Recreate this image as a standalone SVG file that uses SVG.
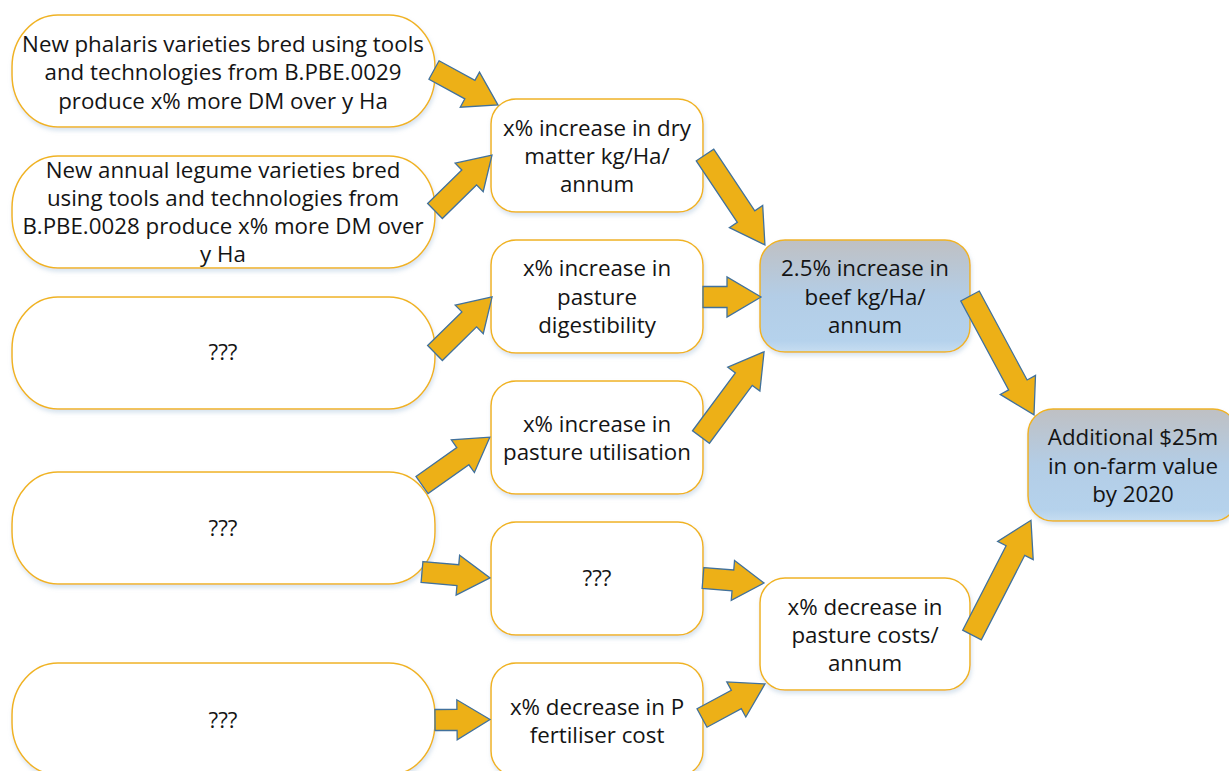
<svg xmlns="http://www.w3.org/2000/svg" width="1229" height="771" viewBox="0 0 1229 771">
<defs>
<linearGradient id="blueGrad" x1="0" y1="0" x2="0" y2="1">
<stop offset="0" stop-color="#bfc0c3"/>
<stop offset="0.5" stop-color="#b3cde6"/>
<stop offset="0.9" stop-color="#b5d2ec"/>
<stop offset="1" stop-color="#c6ddf1"/>
</linearGradient>
<filter id="sh" x="-10%" y="-10%" width="120%" height="130%">
<feDropShadow dx="1" dy="3" stdDeviation="2" flood-color="#8fb0d0" flood-opacity="0.35"/>
</filter>
</defs>
<style>
.box{fill:#ffffff;stroke:#f0b323;stroke-width:1.5;filter:url(#sh)}
.blue{fill:url(#blueGrad);stroke:#f0b323;stroke-width:1.5;filter:url(#sh)}
.t{font-family:"Open Sans","Noto Sans",sans-serif;font-size:22.3px;fill:#141414;text-anchor:middle}
.arr{fill:#edb017;stroke:#41719c;stroke-width:1.3;stroke-linejoin:miter}
</style>
<rect width="1229" height="771" fill="#ffffff"/>

<g id="L1"><rect class="box" x="12" y="15" width="423" height="112" rx="46" ry="52"/>
<text class="t"><tspan x="223" y="52">New phalaris varieties bred using tools</tspan><tspan x="223" y="80">and technologies from B.PBE.0029</tspan><tspan x="223" y="109">produce x% more DM over y Ha</tspan></text></g>
<g id="L2"><rect class="box" x="12" y="156" width="423" height="112" rx="46" ry="52"/>
<text class="t"><tspan x="223" y="178">New annual legume varieties bred</tspan><tspan x="223" y="206">using tools and technologies from</tspan><tspan x="223" y="234">B.PBE.0028 produce x% more DM over</tspan><tspan x="223" y="262">y Ha</tspan></text></g>
<g id="L3"><rect class="box" x="12" y="297" width="423" height="112" rx="46" ry="52"/>
<text class="t" x="223" y="360">???</text></g>
<g id="L4"><rect class="box" x="12" y="472" width="423" height="112" rx="46" ry="52"/>
<text class="t" x="223" y="536">???</text></g>
<g id="L5"><rect class="box" x="12" y="663" width="423" height="112" rx="46" ry="52"/>
<text class="t" x="223" y="728">???</text></g>

<g id="M1"><rect class="box" x="491" y="99" width="212" height="113" rx="25"/>
<text class="t"><tspan x="597" y="136">x% increase in dry</tspan><tspan x="597" y="164">matter kg/Ha/</tspan><tspan x="597" y="192">annum</tspan></text></g>
<g id="M2"><rect class="box" x="491" y="240" width="212" height="113" rx="25"/>
<text class="t"><tspan x="597" y="276">x% increase in</tspan><tspan x="597" y="305">pasture</tspan><tspan x="597" y="333">digestibility</tspan></text></g>
<g id="M3"><rect class="box" x="491" y="381" width="212" height="113" rx="25"/>
<text class="t"><tspan x="597" y="432">x% increase in</tspan><tspan x="597" y="460">pasture utilisation</tspan></text></g>
<g id="M4"><rect class="box" x="491" y="522" width="212" height="113" rx="25"/>
<text class="t" x="597" y="586">???</text></g>
<g id="M5"><rect class="box" x="491" y="663" width="212" height="113" rx="25"/>
<text class="t"><tspan x="597" y="715">x% decrease in P</tspan><tspan x="597" y="743">fertiliser cost</tspan></text></g>

<g id="R1"><rect class="blue" x="760" y="240" width="210" height="112" rx="25"/>
<text class="t"><tspan x="865" y="276">2.5% increase in</tspan><tspan x="865" y="305">beef kg/Ha/</tspan><tspan x="865" y="333">annum</tspan></text></g>
<g id="R2"><rect class="box" x="760" y="578" width="210" height="112" rx="25"/>
<text class="t"><tspan x="865" y="615">x% decrease in</tspan><tspan x="865" y="643">pasture costs/</tspan><tspan x="865" y="671">annum</tspan></text></g>
<g id="F"><rect class="blue" x="1028" y="409" width="210" height="112" rx="25"/>
<text class="t"><tspan x="1133" y="445">Additional $25m</tspan><tspan x="1133" y="474">in on-farm value</tspan><tspan x="1133" y="502">by 2020</tspan></text></g>

<g id="connectors">
<path class="arr" transform="translate(434,70) rotate(28.7)" d="M0,-10.5 L40.9,-10.5 L40.9,-20 L72.9,0 L40.9,20 L40.9,10.5 L0,10.5 Z"/>
<path class="arr" transform="translate(435,211) rotate(-44.5)" d="M0,-10.5 L47.9,-10.5 L47.9,-20 L79.9,0 L47.9,20 L47.9,10.5 L0,10.5 Z"/>
<path class="arr" transform="translate(705,155) rotate(56.3)" d="M0,-10.5 L74,-10.5 L74,-20 L108,0 L74,20 L74,10.5 L0,10.5 Z"/>
<path class="arr" transform="translate(703,297) rotate(0)" d="M0,-10.5 L24,-10.5 L24,-20 L58,0 L24,20 L24,10.5 L0,10.5 Z"/>
<path class="arr" transform="translate(435,353) rotate(-44.5)" d="M0,-10.5 L48,-10.5 L48,-20 L80,0 L48,20 L48,10.5 L0,10.5 Z"/>
<path class="arr" transform="translate(701,437) rotate(-53.5)" d="M0,-10.5 L72,-10.5 L72,-20 L106,0 L72,20 L72,10.5 L0,10.5 Z"/>
<path class="arr" transform="translate(422,485) rotate(-35.2)" d="M0,-10.5 L50,-10.5 L50,-20 L83,0 L50,20 L50,10.5 L0,10.5 Z"/>
<path class="arr" transform="translate(422,572) rotate(5)" d="M0,-10.5 L36,-10.5 L36,-20 L68.3,0 L36,20 L36,10.5 L0,10.5 Z"/>
<path class="arr" transform="translate(435,720) rotate(-0.5)" d="M0,-10.5 L22,-10.5 L22,-20 L55,0 L22,20 L22,10.5 L0,10.5 Z"/>
<path class="arr" transform="translate(703,578) rotate(4.7)" d="M0,-10.5 L30,-10.5 L30,-20 L61.2,0 L30,20 L30,10.5 L0,10.5 Z"/>
<path class="arr" transform="translate(702,718) rotate(-28.4)" d="M0,-10.5 L39,-10.5 L39,-20 L71.6,0 L39,20 L39,10.5 L0,10.5 Z"/>
<path class="arr" transform="translate(970,296) rotate(61.7)" d="M0,-10.5 L101,-10.5 L101,-20 L135,0 L101,20 L101,10.5 L0,10.5 Z"/>
<path class="arr" transform="translate(972,635) rotate(-62.8)" d="M0,-10.5 L95,-10.5 L95,-20 L129,0 L95,20 L95,10.5 L0,10.5 Z"/>
</g>
</svg>
